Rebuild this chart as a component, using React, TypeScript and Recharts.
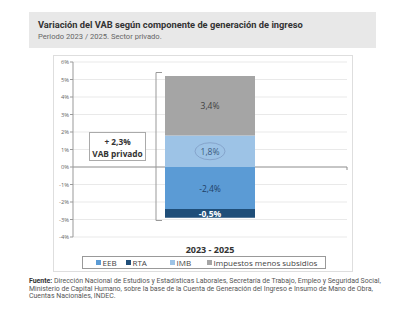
import { Bar, BarChart, CartesianGrid, LabelList, XAxis, YAxis } from "recharts";

const categories = ["2023 - 2025"];
const eeb = [-2.4];
const rta = [-0.5];
const imb = [1.8];
const impuestos = [3.4];
const yTicks = [-4, -3, -2, -1, 0, 1, 2, 3, 4, 5, 6];

const SERIES = [
  { key: "eeb", name: "EEB", color: "#5b9bd5" },
  { key: "rta", name: "RTA", color: "#1f4e79" },
  { key: "imb", name: "IMB", color: "#9dc3e6" },
  { key: "imp", name: "Impuestos menos subsidios", color: "#a5a5a5" },
];

const data = categories.map((name, i) => ({
  name,
  eeb: eeb[i],
  rta: rta[i],
  imb: imb[i],
  imp: impuestos[i],
}));

const pct = (v: number) => `${v.toFixed(1).replace(".", ",")}%`;

function makeLabel(key: string, fill: string, bold = false, ellipse = false) {
  return (props: any) => {
    const { x, y, width, height, index } = props;
    const v = (data[index ?? 0] as any)[key];
    const cx = Number(x) + Number(width) / 2;
    const cy = Number(y) + Number(height) / 2;
    return (
      <g>
        {ellipse && <ellipse cx={cx} cy={cy} rx={15} ry={8.5} fill="none" stroke="#7f9cc4" strokeWidth={0.8} />}
        <text
          x={cx}
          y={cy}
          textAnchor="middle"
          dominantBaseline="central"
          fontSize={8.5}
          fontWeight={bold ? 700 : 400}
          fill={fill}
          fontFamily="'Open Sans', sans-serif"
        >
          {pct(v)}
        </text>
      </g>
    );
  };
}

const GridLine = (props: any) => {
  const { x1, x2, y1, y2, index } = props;
  const isZero = index === yTicks.indexOf(0);
  return (
    <g>
      <line x1={x1} x2={x2} y1={y1} y2={y2} stroke={isZero ? "#8c8c8c" : "#e3e3e3"} strokeWidth={isZero ? 1 : 0.8} />
      {isZero && <line x1={x2} x2={x2} y1={y1} y2={Number(y1) + 3} stroke="#8c8c8c" strokeWidth={1} />}
    </g>
  );
};

export default function App() {
  return (
    <div
      style={{
        position: "absolute",
        left: 0,
        top: 0,
        width: 420,
        height: 309,
        background: "#fff",
        fontFamily: "Roboto, sans-serif",
        overflow: "hidden",
      }}
    >
      <div style={{ position: "absolute", left: 29, top: 12, width: 347, height: 36, background: "#e8e8e8" }}>
        <div style={{ position: "absolute", left: 9, top: 7, fontSize: 9.3, fontWeight: 700, color: "#333", whiteSpace: "nowrap" }}>
          Variación del VAB según componente de generación de ingreso
        </div>
        <div style={{ position: "absolute", left: 9, top: 20, fontSize: 7.6, color: "#666", whiteSpace: "nowrap" }}>
          Periodo 2023 / 2025. Sector privado.
        </div>
      </div>

      <div style={{ position: "absolute", left: 53, top: 55, width: 298, height: 215, border: "1px solid #dedede" }} />

      <div style={{ position: "absolute", left: 0, top: 0 }}>
        <BarChart
          width={420}
          height={309}
          data={data}
          stackOffset="sign"
          margin={{ top: 62, right: 73, bottom: 72, left: 53 }}
        >
          <CartesianGrid vertical={false} horizontal={GridLine as any} />
          <XAxis dataKey="name" hide />
          <YAxis
            width={20}
            domain={[-4, 6]}
            ticks={yTicks}
            interval={0}
            tickFormatter={(v: number) => `${v}%`}
            tick={{ fontSize: 5.8, fill: "#666", fontFamily: "'Open Sans', sans-serif" }}
            tickSize={3}
            tickMargin={1}
            axisLine={{ stroke: "#999" }}
            tickLine={{ stroke: "#999" }}
          />
          <Bar dataKey="eeb" stackId="a" fill="#5b9bd5" barSize={90} isAnimationActive={false}>
            <LabelList dataKey="eeb" content={makeLabel("eeb", "#1f3f66")} />
          </Bar>
          <Bar dataKey="rta" stackId="a" fill="#1f4e79" barSize={90} isAnimationActive={false}>
            <LabelList dataKey="rta" content={makeLabel("rta", "#ffffff", true)} />
          </Bar>
          <Bar dataKey="imb" stackId="a" fill="#9dc3e6" barSize={90} isAnimationActive={false}>
            <LabelList dataKey="imb" content={makeLabel("imb", "#3a5a80", false, true)} />
          </Bar>
          <Bar dataKey="imp" stackId="a" fill="#a5a5a5" barSize={90} isAnimationActive={false}>
            <LabelList dataKey="imp" content={makeLabel("imp", "#404040")} />
          </Bar>
        </BarChart>
      </div>

      {/* bracket and total box */}
      <svg style={{ position: "absolute", left: 0, top: 0 }} width={420} height={309}>
        <polyline points="162,72.5 156,72.5 156,220.5 162,220.5" fill="none" stroke="#999" strokeWidth={1} />
      </svg>
      <div
        style={{
          position: "absolute",
          left: 89,
          top: 132,
          width: 57,
          height: 29,
          border: "1px solid #aaa",
          background: "#fff",
          fontFamily: "'Open Sans', sans-serif",
          fontWeight: 700,
          fontSize: 8.3,
          color: "#333",
          textAlign: "center",
          lineHeight: "12px",
          paddingTop: 3,
          boxSizing: "border-box",
        }}
      >
        + 2,3%
        <br />
        VAB privado
      </div>

      <div
        style={{
          position: "absolute",
          left: 150,
          width: 120,
          top: 243,
          textAlign: "center",
          fontFamily: "'Open Sans', sans-serif",
          fontWeight: 700,
          fontSize: 9,
          color: "#333",
        }}
      >
        {categories[0]}
      </div>

      <div
        style={{
          position: "absolute",
          left: 82,
          top: 256,
          width: 244,
          height: 13,
          border: "1px solid #999",
          boxSizing: "border-box",
          fontFamily: "'Open Sans', sans-serif",
          fontSize: 8,
          color: "#444",
        }}
      >
        {SERIES.map((s, i) => {
          const lefts = [13, 43, 87, 124];
          return (
            <div key={s.key} style={{ position: "absolute", left: lefts[i], top: 0, height: 11, display: "flex", alignItems: "center", whiteSpace: "nowrap" }}>
              <span style={{ display: "inline-block", width: 4.5, height: 4.5, background: s.color, marginRight: 2 }} />
              {s.name}
            </div>
          );
        })}
      </div>

      <div style={{ position: "absolute", left: 29, top: 278, fontSize: 6.95, lineHeight: "7.6px", color: "#555", whiteSpace: "nowrap" }}>
        <b style={{ color: "#333" }}>Fuente:</b> Dirección Nacional de Estudios y Estadísticas Laborales, Secretaría de Trabajo, Empleo y Seguridad Social,
        <br />
        Ministerio de Capital Humano, sobre la base de la Cuenta de Generación del Ingreso e Insumo de Mano de Obra,
        <br />
        Cuentas Nacionales, INDEC.
      </div>
    </div>
  );
}
